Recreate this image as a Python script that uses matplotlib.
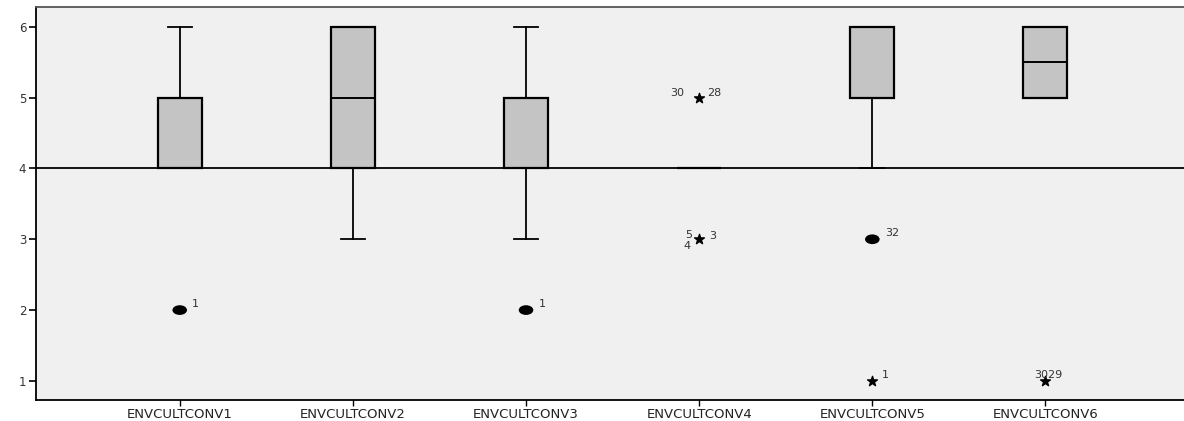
import matplotlib
matplotlib.use('Agg')
import matplotlib.pyplot as plt
from matplotlib.path import Path
from matplotlib.transforms import Affine2D

# variable names and box statistics
names = ['ENVCULTCONV1', 'ENVCULTCONV2', 'ENVCULTCONV3',
         'ENVCULTCONV4', 'ENVCULTCONV5', 'ENVCULTCONV6']
q1 = [4, 4, 4, 4, 5, 5]
med = [5, 5, 5, 4, 6, 5.5]
q3 = [5, 6, 5, 4, 6, 6]
whislo = [4, 3, 3, 4, 4, 5]
whishi = [6, 6, 6, 4, 6, 6]

# outliers (circles) and extremes (stars): position, value, case label
circ_x = [1, 3, 5]
circ_y = [2, 2, 3]
circ_lab = ['1', '1', '32']
star_x = [4, 4, 5, 6]
star_y = [5, 3, 1, 1]

ref_line = 4

plt.rcParams['font.family'] = ['DejaVu Sans']

fig = plt.figure(figsize=(11.84, 4.21), dpi=100)
ax = fig.add_axes([36 / 1184, 21 / 421, 1 - 36 / 1184, 393 / 421])
ax.set_facecolor('#f0f0f0')

stats = []
for i in range(len(names)):
    stats.append({'q1': q1[i], 'med': med[i], 'q3': q3[i],
                  'whislo': whislo[i], 'whishi': whishi[i], 'fliers': []})

ax.axhline(ref_line, color='black', lw=1.3, zorder=1)
ax.bxp(stats, positions=range(1, 7), widths=0.254, capwidths=0.14,
       patch_artist=True, showfliers=False,
       boxprops=dict(facecolor='#c4c4c4', edgecolor='black', lw=1.6),
       medianprops=dict(color='black', lw=1.4),
       whiskerprops=dict(color='black', lw=1.3),
       capprops=dict(color='black', lw=1.3), zorder=2)

# SPSS draws the outlier dot as a flat ellipse
ellipse = Path.unit_circle().transformed(Affine2D().scale(1.5, 1.0))
ax.scatter(circ_x, circ_y, marker=ellipse, s=110, color='black', zorder=3,
           edgecolors='none')
ax.scatter(star_x, star_y, marker='*', s=55, color='black', zorder=3)

lab_kw = dict(fontsize=8, color='#333333', textcoords='offset points')
for x, y, t in zip(circ_x, circ_y, circ_lab):
    ax.annotate(t, (x, y), xytext=(9, 2), **lab_kw)
ax.annotate('30', (4, 5), xytext=(-21, 1), **lab_kw)
ax.annotate('28', (4, 5), xytext=(6, 1), **lab_kw)
ax.annotate('5', (4, 3), xytext=(-10, 1), **lab_kw)
ax.annotate('3', (4, 3), xytext=(7, 0), **lab_kw)
ax.annotate('4', (4, 3), xytext=(-11, -7), **lab_kw)
ax.annotate('1', (5, 1), xytext=(7, 2), **lab_kw)
ax.annotate('3029', (6, 1), xytext=(-8, 2), **lab_kw)

ax.set_xlim(0.17, 6.80)
ax.set_ylim(0.73, 6.28)
ax.set_yticks([1, 2, 3, 4, 5, 6])
ax.set_xticks(range(1, 7))
ax.set_xticklabels(names)
ax.tick_params(axis='y', labelsize=8.5, width=1.2, length=5, pad=2,
               labelcolor='#333333')
ax.tick_params(axis='x', labelsize=9.5, width=1.0, length=4, pad=1.5,
               labelcolor='#222222')

for side in ['left', 'bottom']:
    ax.spines[side].set_linewidth(1.3)
ax.spines['top'].set_color('#555555')
ax.spines['top'].set_linewidth(1.3)
ax.spines['right'].set_visible(False)

fig.savefig('out.png', dpi=100)
